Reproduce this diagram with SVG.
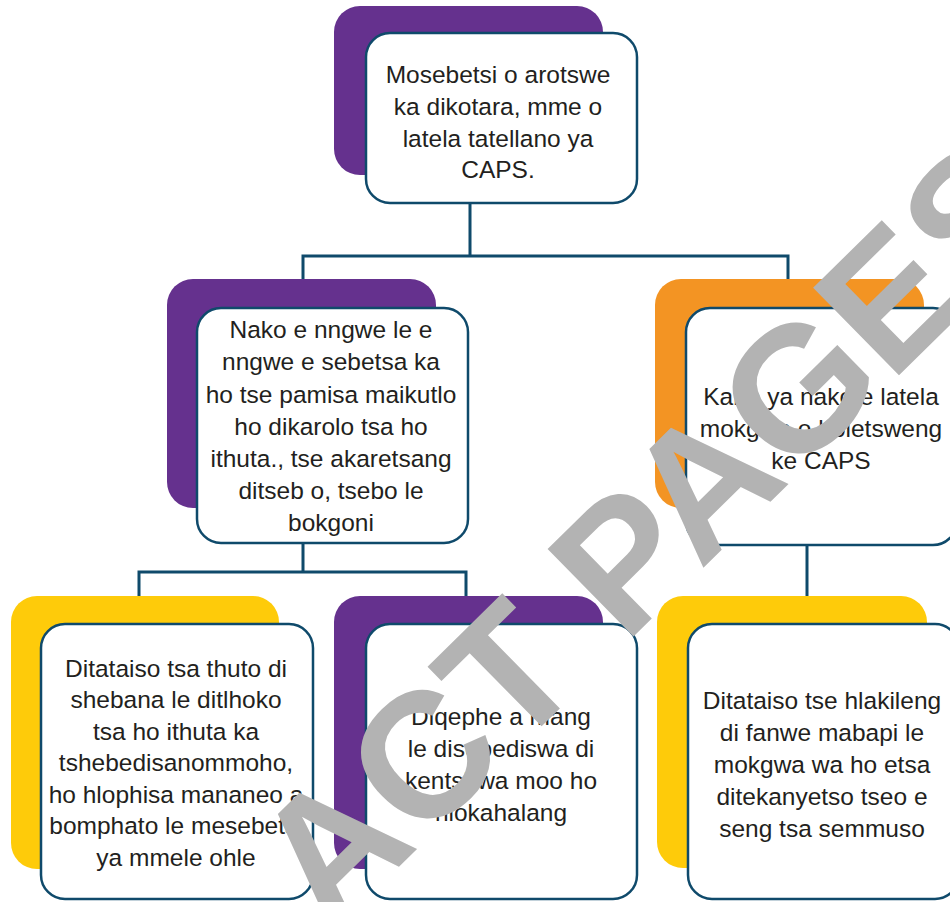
<svg xmlns="http://www.w3.org/2000/svg" width="950" height="902" viewBox="0 0 950 902">
<style>
.front{fill:#ffffff;stroke:#0f4a6b;stroke-width:2.5}
.purple{fill:#65318e}
.orange{fill:#f39423}
.yellow{fill:#fecb0a}
.t{font-family:"Liberation Sans",Arial,sans-serif;font-size:24.5px;fill:#231f20;text-anchor:middle}
.conn{fill:none;stroke:#0f4a6b;stroke-width:3;stroke-linecap:square}
.wm{font-family:"Liberation Sans",Arial,sans-serif;font-weight:bold;font-size:178px;fill:#b3b3b3}
</style>
<rect width="950" height="902" fill="#ffffff"/>
<g id="connectors">
<path class="conn" d="M303,279 V256 H788 V279 M470,203 V256"/>
<path class="conn" d="M139,596 V572 H466 V596 M303,543 V572"/>
<path class="conn" d="M807,545 V596"/>
</g>
<g id="node-top">
<rect class="purple" x="334" y="6" width="269" height="169" rx="26"/>
<rect class="front" x="366" y="33" width="271" height="170" rx="24"/>
<text class="t" x="498" y="83">Mosebetsi o arotswe</text>
<text class="t" x="498" y="115">ka dikotara, mme o</text>
<text class="t" x="498" y="147">latela tatellano ya</text>
<text class="t" x="498" y="178">CAPS.</text>
</g>
<g id="node-mid-left">
<rect class="purple" x="167" y="279" width="269" height="229" rx="26"/>
<rect class="front" x="197" y="308" width="271" height="235" rx="24"/>
<text class="t" x="331" y="338">Nako e nngwe le e</text>
<text class="t" x="331" y="370">nngwe e sebetsa ka</text>
<text class="t" x="331" y="403">ho tse pamisa maikutlo</text>
<text class="t" x="331" y="435">ho dikarolo tsa ho</text>
<text class="t" x="331" y="467">ithuta., tse akaretsang</text>
<text class="t" x="331" y="499">ditseb o, tsebo le</text>
<text class="t" x="331" y="531">bokgoni</text>
</g>
<g id="node-mid-right">
<rect class="orange" x="655" y="279" width="269" height="229" rx="26"/>
<rect class="front" x="686" y="308" width="271" height="237" rx="24"/>
<text class="t" x="821" y="405">Kabo ya nako e latela</text>
<text class="t" x="821" y="437">mokgwa o boletsweng</text>
<text class="t" x="821" y="469">ke CAPS</text>
</g>
<g id="node-bottom-left">
<rect class="yellow" x="11" y="596" width="268" height="273" rx="26"/>
<rect class="front" x="41" y="624" width="272" height="275" rx="24"/>
<text class="t" x="176" y="677">Ditataiso tsa thuto di</text>
<text class="t" x="176" y="708">shebana le ditlhoko</text>
<text class="t" x="176" y="740">tsa ho ithuta ka</text>
<text class="t" x="176" y="771">tshebedisanommoho,</text>
<text class="t" x="176" y="803">ho hlophisa mananeo a</text>
<text class="t" x="176" y="834">bomphato le mesebetsi</text>
<text class="t" x="176" y="866">ya mmele ohle</text>
</g>
<g id="node-bottom-mid">
<rect class="purple" x="334" y="596" width="269" height="273" rx="26"/>
<rect class="front" x="366" y="624" width="271" height="275" rx="24"/>
<text class="t" x="501" y="725">Diqephe a mang</text>
<text class="t" x="501" y="757">le disebediswa di</text>
<text class="t" x="501" y="789">kentshwa moo ho</text>
<text class="t" x="501" y="821">hlokahalang</text>
</g>
<g id="node-bottom-right">
<rect class="yellow" x="657" y="596" width="270" height="272" rx="26"/>
<rect class="front" x="688" y="624" width="271" height="275" rx="24"/>
<text class="t" x="822" y="709">Ditataiso tse hlakileng</text>
<text class="t" x="822" y="741">di fanwe mabapi le</text>
<text class="t" x="822" y="773">mokgwa wa ho etsa</text>
<text class="t" x="822" y="805">ditekanyetso tseo e</text>
<text class="t" x="822" y="837">seng tsa semmuso</text>
</g>
<g id="watermark">
<text class="wm" transform="translate(420,846) rotate(-44.5)" x="-128" y="0">ACT PAGES</text>
</g>
</svg>
